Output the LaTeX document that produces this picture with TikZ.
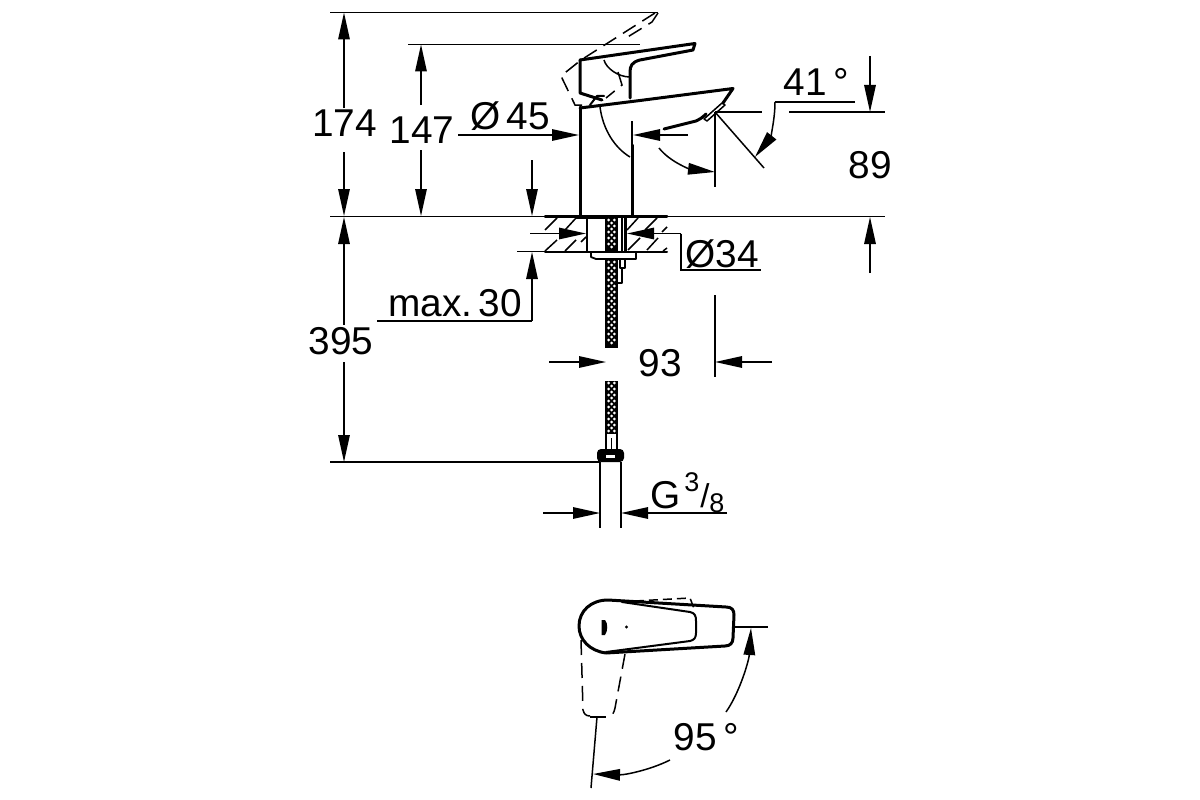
\documentclass[tikz,border=0pt]{standalone}
\usepackage{fontspec}
\setmainfont{Liberation Sans}
\usetikzlibrary{arrows.meta}
\tikzset{
  thin line/.style={line width=1.5pt,draw=black},
  thick line/.style={line width=3pt,draw=black,line cap=round,line join=round},
  mid line/.style={line width=2pt,draw=black,line cap=round,line join=round},
  dash line/.style={line width=1.5pt,draw=black,dash pattern=on 15pt off 8pt},
  tip end/.style={-{Triangle[length=27pt,width=11.5pt]}},
  dimtext/.style={inner sep=0pt,font=\fontsize{38.8}{39}\selectfont,text=black},
  smalltext/.style={inner sep=0pt,font=\fontsize{27}{27}\selectfont,text=black}
}
\newcommand{\braidrun}[2]{%
  \fill[black] (605,#1) rectangle (618,#2);
  \foreach \yy in {#1,...,#2}{%
    \pgfmathsetmacro{\kk}{int(mod(\yy-#1,6))}%
    \ifnum\kk=2
      \pgfmathsetmacro{\ya}{\yy}%
      \pgfmathsetmacro{\yb}{\yy+3}%
      \ifdim\yy pt<\numexpr#2-2\relax pt
        \fill[white] (608.6,\ya-1.5) -- (610.1,\ya) -- (608.6,\ya+1.5) -- (607.1,\ya) -- cycle;
        \fill[white] (614.4,\ya-1.5) -- (615.9,\ya) -- (614.4,\ya+1.5) -- (612.9,\ya) -- cycle;
      \fi
      \ifdim\yy pt<\numexpr#2-5\relax pt
        \fill[white] (611.5,\yb-1.5) -- (613,\yb) -- (611.5,\yb+1.5) -- (610,\yb) -- cycle;
      \fi
    \fi}%
}
\begin{document}
\begin{tikzpicture}[x=1pt,y=-1pt]
\useasboundingbox (0,0) rectangle (1200,800);
% --- long extension lines
\draw[thin line] (330,12.5) -- (658,12.5);
\draw[thin line] (408,44.5) -- (640,44.5);
\draw[thin line] (330,216.5) -- (885,216.5);
\draw[thin line] (330,462) -- (600,462);
% --- dashed raised lever
\draw[dash line] (658,13) -- (652,22) -- (626,38);
\draw[dash line] (655,13) -- (581,60) -- (561,76) -- (575,105) -- (582,105);
\draw[dash line] (618,72) -- (622,85) -- (606,98);
% --- upper lever
\draw[thick line] (580,60) -- (695,43.5) -- (693,50) -- (640,60) .. controls (632,62) and (630,66) .. (630,72) -- (630,98);
\draw[thick line] (580,60) -- (580,93) -- (602,100);
\draw[mid line] (590,105) -- (597,96) -- (604,96);
\draw[thin line] (604,60) .. controls (606,68) and (618,77) .. (630,77);
% --- lower lever and body
\draw[thick line] (580,108) -- (640,100.5) -- (733,88.5) -- (723,103);
\draw[thick line] (580,107) -- (580,216);
\draw[thick line] (632,145) -- (632,216);
\draw[thin line] (632,121) -- (632,145);
\draw[thin line] (600,107) .. controls (603,130) and (615,148) .. (630,157);
\draw[thick line] (664,129) -- (696,121) .. controls (700,119) and (702,118) .. (706,114);
\draw[line width=1.5pt,draw=black,line join=round] (704,119) -- (722,103) -- (725,105) -- (707,121) -- cycle;
% --- dims top
\draw[thin line,tip end] (344,108) -- (344,12.5);
\draw[thin line,tip end] (344,152) -- (344,216);
\node[dimtext] (t174) at (344.5,123) {174};
\draw[thin line,tip end] (421,105) -- (421,44.5);
\draw[thin line,tip end] (421,150) -- (421,216);
\node[dimtext] (t147) at (422,130) {147};
\node[dimtext] (t45) at (510,116) {Ø\,45};
\draw[thin line,tip end] (458,135) -- (579,135);
\draw[thin line,tip end] (688,135) -- (633,135);
\draw[thin line,tip end] (532,160) -- (532,216);
% --- 41 and 89
\draw[thin line] (715,112) -- (762,112);
\draw[thin line] (789,112) -- (885,112);
\draw[thin line] (715,112) -- (715,187);
\draw[thin line] (715,112) -- (764,168);
\draw[thin line] (855,102) -- (775,102);
\draw[thin line,tip end] (775,102) .. controls (775,120) and (770,138) .. (755,157);
\draw[thin line,tip end] (659,148) .. controls (670,162) and (690,169) .. (715,172);
\node[dimtext] (t41) at (816,82) {41\,°};
\draw[thin line,tip end] (870,56) -- (870,112);
\node[dimtext] (t89) at (870,165) {89};
\draw[thin line,tip end] (870,273) -- (870,217);
% --- deck plate
\draw[thick line] (545,216.5) -- (667,216.5);
\draw[mid line] (545,251.5) -- (667,251.5);
\draw[thin line] (517,251.5) -- (545,251.5);
\foreach \ax/\ay/\bx/\by in {545/230/557/218,565/230/576/218,627/230/638/218,645/230/657/218,662/232/667/227,
  545/251/557/240,565/251/576/240,581/242/586/237,628/250/640/238,647/250/658/238,663/251/667/248}
  \draw[thin line] (\ax,\ay) -- (\bx,\by);
\fill[black] (575,216) rectangle (616,218.5);
% --- stem
\draw[mid line] (587,218) -- (587,251);
\draw[thin line] (622,218) -- (622,251);
\draw[mid line,line width=3.5pt] (625.5,218) -- (625.5,251);
\draw[mid line,line width=1.8pt] (591,252) -- (591,257) -- (596,259) -- (636,259) -- (636,252);
\draw[mid line,line width=1.6pt] (620,259) -- (620,268) -- (625,268) -- (625,259);
\draw[mid line,line width=1.6pt] (617,268) -- (617,283) -- (622,283) -- (622,268);
% --- braided hose
\braidrun{218}{251}
\braidrun{260}{348}
\braidrun{381}{434}
% --- hose end
\draw[mid line,line width=2.4pt] (606,434) -- (606,450) (617,434) -- (617,450);
\draw[thin line] (611.5,438) -- (611.5,450);
\fill[black,rounded corners=4pt] (597,449) rectangle (624,462);
\fill[white] (606,455) rectangle (615,458);
\draw[thin line] (600,462) -- (600,528);
\draw[thin line] (621,462) -- (621,528);
% --- max 30
\node[dimtext] (tmax) at (455,303) {max.\,30};
\draw[thin line] (377,321) -- (532,321);
\draw[thin line,tip end] (532,321) -- (532,252);
\node[dimtext] (t395) at (341,341) {395};
\draw[thin line,tip end] (344,325) -- (344,217);
\draw[thin line,tip end] (344,362) -- (344,462);
% --- dia 34
\draw[thin line,tip end] (530,233.5) -- (586,233.5);
\draw[thin line,tip end] (681,233.5) -- (627,233.5);
\draw[thin line] (681,233.5) -- (681,270) -- (761,270);
\node[dimtext] (t34) at (722,254) {Ø34};
% --- 93
\draw[thin line,tip end] (549,362) -- (606,362);
\draw[thin line,tip end] (772,362) -- (715,362);
\draw[thin line] (715,295) -- (715,377);
\node[dimtext] (t93) at (660,363) {93};
% --- G 3/8
\draw[thin line,tip end] (543,513) -- (600,513);
\draw[thin line,tip end] (727,513) -- (621,513);
\node[dimtext] (tg) at (666,495) {G};
\node[smalltext] (t3) at (692,482) {3};
\node[smalltext,font=\fontsize{33}{33}\selectfont] (tslash) at (705,496) {/};
\node[smalltext] (t8) at (717,503) {8};
% --- plan view
\draw[thick line] (606,653) .. controls (590,651) and (579,640) .. (579,626)
  .. controls (579,611) and (591,600) .. (608,600) -- (726,607) .. controls (732,607) and (734,610) .. (734,615)
  -- (733,638) .. controls (733,643) and (730,646) .. (725,646) -- cycle;
\draw[mid line] (622,602) -- (690,612) .. controls (695,613) and (696,616) .. (696,621)
  -- (696,633) .. controls (696,638) and (694,640) .. (690,641) -- (606,652);
\fill[black] (601.5,620) -- (605,620) .. controls (608,623) and (608,631) .. (605,635) -- (601.5,635) -- cycle;
\fill[black] (626.5,627) circle (1.6pt);
\draw[dash line,dash pattern=on 9pt off 5pt] (635,601) -- (690,598) -- (695,611);
\draw[dash line] (581,640) -- (583,710) .. controls (584,714) and (586,716) .. (590,716);
\draw[dash line] (625,654) -- (615,708) .. controls (614,713) and (612,716) .. (609,716);
\draw[thin line] (590,717) -- (606,717);
\draw[thin line] (597,717) -- (591,788);
\draw[thin line] (735,627) -- (768,627);
\draw[thin line,tip end] (726,712) .. controls (740,692) and (749,660) .. (751,628);
\draw[thin line,tip end] (670,760) .. controls (650,770) and (625,775) .. (593,774);
\node[dimtext] (t95) at (706,737) {95\,°};
\end{tikzpicture}
\end{document}
